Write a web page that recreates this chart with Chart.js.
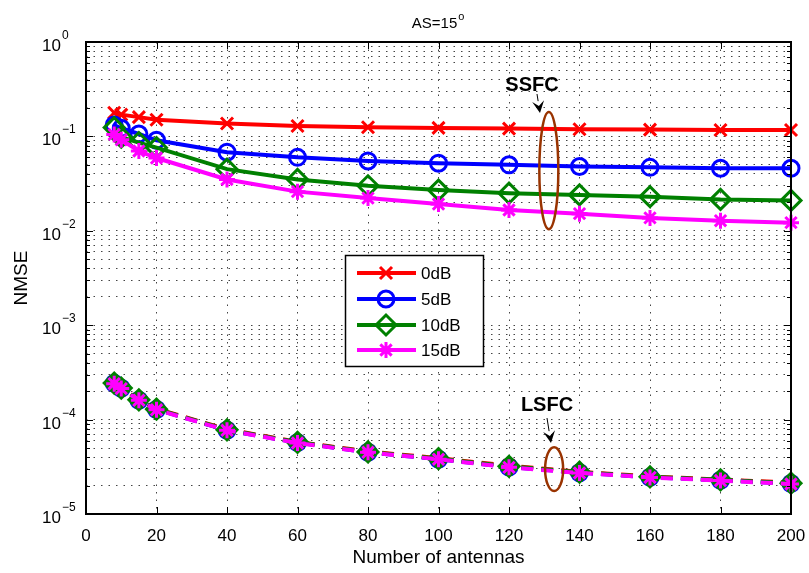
<!DOCTYPE html>
<html>
<head>
<meta charset="utf-8">
<script src="https://cdn.jsdelivr.net/npm/chart.js@4.4.1/dist/chart.umd.min.js"></script>
<style>
  html, body { margin: 0; padding: 0; background: #fff; }
  #wrap { width: 809px; height: 573px; }
</style>
</head>
<body>
<div id="wrap"><canvas id="nmseChart" width="809" height="573"></canvas></div>
<script>
// number of antennas on the x axis
const antennas = [8, 10, 15, 20, 40, 60, 80, 100, 120, 140, 160, 180, 200];

// SSFC curves (solid)
const ssfc0dB  = [0.178, 0.170, 0.160, 0.150, 0.137, 0.129, 0.125, 0.123, 0.121, 0.119, 0.118, 0.117, 0.117];
const ssfc5dB  = [0.132, 0.122, 0.106, 0.091, 0.068, 0.060, 0.055, 0.052, 0.050, 0.048, 0.047, 0.046, 0.046];
const ssfc10dB = [0.124, 0.098, 0.086, 0.076, 0.045, 0.035, 0.030, 0.027, 0.025, 0.024, 0.023, 0.0215, 0.021];
const ssfc15dB = [0.105, 0.092, 0.070, 0.059, 0.035, 0.026, 0.0222, 0.0192, 0.0166, 0.0152, 0.0137, 0.0128, 0.0122];

// LSFC curves (dashed)
const lsfc0dB  = [2.45e-4, 2.18e-4, 1.63e-4, 1.30e-4, 7.9e-5, 5.8e-5, 4.6e-5, 3.9e-5, 3.25e-5, 2.80e-5, 2.50e-5, 2.32e-5, 2.15e-5];
const lsfc5dB  = [2.42e-4, 2.15e-4, 1.60e-4, 1.28e-4, 7.7e-5, 5.7e-5, 4.5e-5, 3.8e-5, 3.15e-5, 2.74e-5, 2.45e-5, 2.28e-5, 2.10e-5];
const lsfc10dB = [2.44e-4, 2.16e-4, 1.62e-4, 1.29e-4, 7.8e-5, 5.75e-5, 4.55e-5, 3.85e-5, 3.20e-5, 2.77e-5, 2.48e-5, 2.30e-5, 2.12e-5];
const lsfc15dB = [2.40e-4, 2.13e-4, 1.60e-4, 1.27e-4, 7.7e-5, 5.65e-5, 4.5e-5, 3.8e-5, 3.12e-5, 2.72e-5, 2.44e-5, 2.26e-5, 2.08e-5];

const legendLabels = ['0dB', '5dB', '10dB', '15dB'];
const xTicks = [0, 20, 40, 60, 80, 100, 120, 140, 160, 180, 200];
const yExponents = [0, -1, -2, -3, -4, -5];

const colors = ['#ff0000', '#0000ff', '#008000', '#ff00ff'];
const markers = [
  { style: 'crossRot', r: 8.5 },
  { style: 'circle', r: 8 },
  { style: 'rectRot', r: 10 },
  { style: 'star', r: 8 }
];

function series(label, values, i, dashed) {
  return {
    label: label,
    data: values.map((v, k) => ({ x: antennas[k], y: v })),
    borderColor: colors[i],
    borderWidth: 4,
    borderDash: dashed ? [12, 8] : [],
    pointStyle: markers[i].style,
    pointRadius: markers[i].r,
    pointBorderWidth: 3,
    pointBorderColor: colors[i],
    pointBackgroundColor: dashed ? colors[i] : 'rgba(0,0,0,0)',
    tension: 0,
    fill: false,
    clip: false,
    order: 4 - i
  };
}

const datasets = [
  series('0dB', ssfc0dB, 0, false),
  series('5dB', ssfc5dB, 1, false),
  series('10dB', ssfc10dB, 2, false),
  series('15dB', ssfc15dB, 3, false),
  series('0dB LSFC', lsfc0dB, 0, true),
  series('5dB LSFC', lsfc5dB, 1, true),
  series('10dB LSFC', lsfc10dB, 2, true),
  series('15dB LSFC', lsfc15dB, 3, true)
];

const FONT = '"Liberation Sans", Arial, Helvetica, sans-serif';

function drawMarker(ctx, style, x, y, r) {
  ctx.beginPath();
  if (style === 'circle') {
    ctx.arc(x, y, r, 0, Math.PI * 2);
  } else if (style === 'rectRot') {
    ctx.moveTo(x - r, y); ctx.lineTo(x, y - r); ctx.lineTo(x + r, y); ctx.lineTo(x, y + r); ctx.closePath();
  } else if (style === 'crossRot') {
    const d = r * Math.SQRT1_2;
    ctx.moveTo(x - d, y - d); ctx.lineTo(x + d, y + d);
    ctx.moveTo(x + d, y - d); ctx.lineTo(x - d, y + d);
  } else if (style === 'star') {
    const d = r * Math.SQRT1_2;
    ctx.moveTo(x - r, y); ctx.lineTo(x + r, y);
    ctx.moveTo(x, y - r); ctx.lineTo(x, y + r);
    ctx.moveTo(x - d, y - d); ctx.lineTo(x + d, y + d);
    ctx.moveTo(x + d, y - d); ctx.lineTo(x - d, y + d);
  }
  ctx.stroke();
}

function drawArrow(ctx, x1, y1, x2, y2) {
  const a = Math.atan2(y2 - y1, x2 - x1);
  const len = 12, half = 6;
  const bx = x2 - Math.cos(a) * len, by = y2 - Math.sin(a) * len;
  ctx.strokeStyle = '#000';
  ctx.lineWidth = 1;
  ctx.beginPath(); ctx.moveTo(x1, y1); ctx.lineTo(bx, by); ctx.stroke();
  ctx.fillStyle = '#000';
  ctx.beginPath();
  ctx.moveTo(x2, y2);
  ctx.lineTo(bx - Math.sin(a) * half, by + Math.cos(a) * half);
  ctx.lineTo(x2 - Math.cos(a) * len * 0.6, y2 - Math.sin(a) * len * 0.6);
  ctx.lineTo(bx + Math.sin(a) * half, by - Math.cos(a) * half);
  ctx.closePath();
  ctx.fill();
}

// axes box, inner ticks, labels, annotations and legend
const framePlugin = {
  id: 'frame',
  afterDraw(chart) {
    const ctx = chart.ctx;
    const { left, right, top, bottom } = chart.chartArea;
    const xs = chart.scales.x, ys = chart.scales.y;
    ctx.save();

    // inner tick marks
    ctx.strokeStyle = '#000';
    ctx.lineWidth = 1;
    ctx.beginPath();
    xTicks.forEach(t => {
      const px = Math.round(xs.getPixelForValue(t)) + 0.5;
      ctx.moveTo(px, bottom); ctx.lineTo(px, bottom - 7);
      ctx.moveTo(px, top); ctx.lineTo(px, top + 7);
    });
    for (let e = -5; e <= 0; e++) {
      for (let m = 1; m <= 9; m++) {
        if (e === 0 && m > 1) break;
        const py = Math.round(ys.getPixelForValue(m * Math.pow(10, e))) + 0.5;
        const len = m === 1 ? 7 : 4;
        ctx.moveTo(left, py); ctx.lineTo(left + len, py);
        ctx.moveTo(right, py); ctx.lineTo(right - len, py);
      }
    }
    ctx.stroke();

    // box
    ctx.lineWidth = 2;
    ctx.strokeRect(left, top, right - left, bottom - top);

    // x tick labels
    ctx.fillStyle = '#000';
    ctx.font = '17px ' + FONT;
    ctx.textAlign = 'center';
    ctx.textBaseline = 'alphabetic';
    xTicks.forEach(t => ctx.fillText(String(t), xs.getPixelForValue(t), bottom + 27));

    // y tick labels 10^e
    yExponents.forEach(e => {
      const py = ys.getPixelForValue(Math.pow(10, e));
      ctx.font = '17px ' + FONT;
      ctx.textAlign = 'right';
      ctx.fillText('10', 61, py + 9);
      ctx.font = '12px ' + FONT;
      ctx.textAlign = 'left';
      ctx.fillText(e === 0 ? '0' : '\u2212' + Math.abs(e), 62, py - 3);
    });

    // axis titles
    ctx.font = '19px ' + FONT;
    ctx.textAlign = 'center';
    ctx.fillText('Number of antennas', (left + right) / 2, 563);
    ctx.save();
    ctx.translate(27, (top + bottom) / 2);
    ctx.rotate(-Math.PI / 2);
    ctx.fillText('NMSE', 0, 0);
    ctx.restore();

    // title AS=15°
    ctx.font = '15px ' + FONT;
    ctx.textAlign = 'left';
    const tw = ctx.measureText('AS=15').width;
    const tx = (left + right) / 2 - (tw + 8) / 2;
    ctx.fillText('AS=15', tx, 28);
    ctx.font = '11px ' + FONT;
    ctx.fillText('o', tx + tw + 1, 20);

    // SSFC / LSFC annotations
    ctx.strokeStyle = '#993300';
    ctx.lineWidth = 2.5;
    const ssX = xs.getPixelForValue(131.3);
    const ssTop = ys.getPixelForValue(0.181), ssBot = ys.getPixelForValue(0.0104);
    ctx.beginPath();
    ctx.ellipse(ssX, (ssTop + ssBot) / 2, 9.5, (ssBot - ssTop) / 2, 0, 0, Math.PI * 2);
    ctx.stroke();
    const lsX = xs.getPixelForValue(132.8);
    const lsTop = ys.getPixelForValue(5.1e-5), lsBot = ys.getPixelForValue(1.75e-5);
    ctx.beginPath();
    ctx.ellipse(lsX, (lsTop + lsBot) / 2, 9, (lsBot - lsTop) / 2, 0, 0, Math.PI * 2);
    ctx.stroke();

    ctx.fillStyle = '#000';
    ctx.font = 'bold 20px ' + FONT;
    ctx.textAlign = 'center';
    ctx.fillText('SSFC', 532, 91);
    drawArrow(ctx, 537, 94, 540, 113);
    ctx.fillText('LSFC', 547, 411);
    drawArrow(ctx, 547, 418, 551, 443);

    // legend
    const lx = 345, ly = 255, lw = 138, lh = 111;
    ctx.fillStyle = '#fff';
    ctx.fillRect(lx, ly, lw, lh);
    ctx.strokeStyle = '#000';
    ctx.lineWidth = 1.5;
    ctx.strokeRect(lx + 0.5, ly + 0.5, lw, lh);
    const rows = [273, 299, 325, 350];
    legendLabels.forEach((lab, i) => {
      ctx.strokeStyle = colors[i];
      ctx.lineWidth = 4;
      ctx.beginPath(); ctx.moveTo(357, rows[i]); ctx.lineTo(416, rows[i]); ctx.stroke();
      ctx.lineWidth = 3;
      drawMarker(ctx, markers[i].style, 386, rows[i], markers[i].r);
      ctx.fillStyle = '#000';
      ctx.font = '17px ' + FONT;
      ctx.textAlign = 'left';
      ctx.fillText(lab, 421, rows[i] + 6);
    });

    ctx.restore();
  }
};

const logTicks = [];
for (let e = -5; e <= 0; e++) {
  for (let m = 1; m <= 9; m++) {
    if (e === 0 && m > 1) break;
    logTicks.push({ value: m * Math.pow(10, e) });
  }
}

new Chart(document.getElementById('nmseChart'), {
  type: 'line',
  data: { datasets: datasets },
  options: {
    responsive: false,
    devicePixelRatio: 1,
    animation: false,
    layout: { padding: { top: 42, right: 18, left: 0, bottom: 0 } },
    scales: {
      x: {
        type: 'linear',
        min: 0,
        max: 200,
        ticks: { display: false, stepSize: 20 },
        grid: { color: '#444', lineWidth: 1, drawTicks: false, tickLength: 0 },
        border: { display: false, dash: [1.5, 6] },
        afterFit: (scale) => { scale.height = 59; }
      },
      y: {
        type: 'logarithmic',
        min: 1e-5,
        max: 1,
        ticks: { display: false },
        afterBuildTicks: (scale) => { scale.ticks = logTicks.map(t => ({ value: t.value })); },
        grid: { color: '#444', lineWidth: 1, drawTicks: false, tickLength: 0 },
        border: { display: false, dash: [1.5, 6] },
        afterFit: (scale) => { scale.width = 86; }
      }
    },
    plugins: {
      legend: { display: false },
      tooltip: { enabled: false },
      title: { display: false }
    }
  },
  plugins: [framePlugin]
});
</script>
</body>
</html>
